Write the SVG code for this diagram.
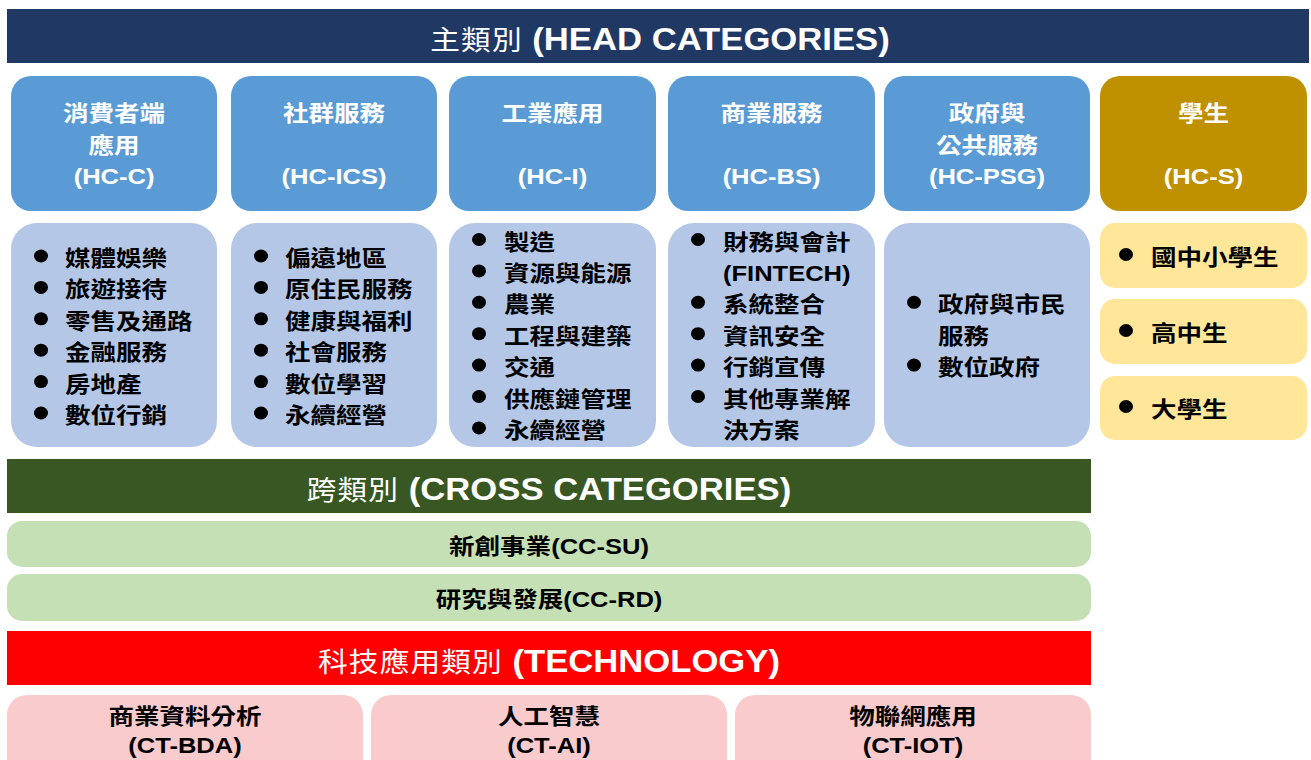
<svg xmlns="http://www.w3.org/2000/svg" width="1311" height="760" viewBox="0 0 1311 760">
<style>
  text { font-family: "Liberation Sans", "Noto Sans CJK TC", sans-serif; font-weight: 700; }
  .zh { font-family: "Noto Sans CJK TC", sans-serif; }
  .bar { fill: #ffffff; font-size: 31.5px; text-anchor: middle; }
  .bar .zh { font-size: 27px; font-weight: 400; letter-spacing: 1px; }
  .ttl { fill: #ffffff; font-size: 22px; text-anchor: middle; }
  .li { fill: #000000; font-size: 22px; }
  .mid { fill: #000000; font-size: 22px; text-anchor: middle; }
  .dot { fill: #000000; }
  .head { fill: #5B9BD5; }
  .list { fill: #B4C7E7; }
  .gold { fill: #BF9000; }
  .yel { fill: #FFE699; }
  .lg { fill: #C5E0B4; }
  .pink { fill: #F9CBCC; }
</style>
<rect width="1311" height="760" fill="#ffffff"/>

<g id="head-bar">
  <rect x="7" y="9" width="1302" height="54" fill="#203864"/>
  <text class="bar" transform="translate(660,50) scale(1.1,1)"><tspan class="zh">主類別</tspan> (HEAD CATEGORIES)</text>
</g>

<g id="hc-c">
  <rect class="head" x="11" y="76" width="206" height="135" rx="20"/>
  <text class="ttl zh" transform="translate(114,121) scale(1.16,1)">消費者端</text>
  <text class="ttl zh" transform="translate(114,153) scale(1.16,1)">應用</text>
  <text class="ttl" transform="translate(114,184) scale(1.16,1)">(HC-C)</text>
</g>
<g id="hc-ics">
  <rect class="head" x="231" y="76" width="206" height="135" rx="20"/>
  <text class="ttl zh" transform="translate(334,121) scale(1.16,1)">社群服務</text>
  <text class="ttl" transform="translate(334,184) scale(1.16,1)">(HC-ICS)</text>
</g>
<g id="hc-i">
  <rect class="head" x="449" y="76" width="207" height="135" rx="20"/>
  <text class="ttl zh" transform="translate(552.5,121) scale(1.16,1)">工業應用</text>
  <text class="ttl" transform="translate(552.5,184) scale(1.16,1)">(HC-I)</text>
</g>
<g id="hc-bs">
  <rect class="head" x="668" y="76" width="207" height="135" rx="20"/>
  <text class="ttl zh" transform="translate(771.5,121) scale(1.16,1)">商業服務</text>
  <text class="ttl" transform="translate(771.5,184) scale(1.16,1)">(HC-BS)</text>
</g>
<g id="hc-psg">
  <rect class="head" x="884" y="76" width="206" height="135" rx="20"/>
  <text class="ttl zh" transform="translate(987,121) scale(1.16,1)">政府與</text>
  <text class="ttl zh" transform="translate(987,153) scale(1.16,1)">公共服務</text>
  <text class="ttl" transform="translate(987,184) scale(1.16,1)">(HC-PSG)</text>
</g>
<g id="hc-s">
  <rect class="gold" x="1100" y="76" width="207" height="135" rx="20"/>
  <text class="ttl zh" transform="translate(1203.5,121) scale(1.16,1)">學生</text>
  <text class="ttl" transform="translate(1203.5,184) scale(1.16,1)">(HC-S)</text>
</g>

<g id="list-hc-c">
  <rect class="list" x="11" y="223" width="206" height="224" rx="26"/>
  <ellipse class="dot" cx="41" cy="256" rx="7" ry="6.5"/>
  <ellipse class="dot" cx="41" cy="287.4" rx="7" ry="6.5"/>
  <ellipse class="dot" cx="41" cy="318.8" rx="7" ry="6.5"/>
  <ellipse class="dot" cx="41" cy="350.2" rx="7" ry="6.5"/>
  <ellipse class="dot" cx="41" cy="381.6" rx="7" ry="6.5"/>
  <ellipse class="dot" cx="41" cy="413" rx="7" ry="6.5"/>
  <text class="li zh" transform="translate(65,266) scale(1.16,1)">媒體娛樂</text>
  <text class="li zh" transform="translate(65,297.4) scale(1.16,1)">旅遊接待</text>
  <text class="li zh" transform="translate(65,328.8) scale(1.16,1)">零售及通路</text>
  <text class="li zh" transform="translate(65,360.2) scale(1.16,1)">金融服務</text>
  <text class="li zh" transform="translate(65,391.6) scale(1.16,1)">房地產</text>
  <text class="li zh" transform="translate(65,423) scale(1.16,1)">數位行銷</text>
</g>
<g id="list-hc-ics">
  <rect class="list" x="231" y="223" width="206" height="224" rx="26"/>
  <ellipse class="dot" cx="261" cy="256" rx="7" ry="6.5"/>
  <ellipse class="dot" cx="261" cy="287.4" rx="7" ry="6.5"/>
  <ellipse class="dot" cx="261" cy="318.8" rx="7" ry="6.5"/>
  <ellipse class="dot" cx="261" cy="350.2" rx="7" ry="6.5"/>
  <ellipse class="dot" cx="261" cy="381.6" rx="7" ry="6.5"/>
  <ellipse class="dot" cx="261" cy="413" rx="7" ry="6.5"/>
  <text class="li zh" transform="translate(285,266) scale(1.16,1)">偏遠地區</text>
  <text class="li zh" transform="translate(285,297.4) scale(1.16,1)">原住民服務</text>
  <text class="li zh" transform="translate(285,328.8) scale(1.16,1)">健康與福利</text>
  <text class="li zh" transform="translate(285,360.2) scale(1.16,1)">社會服務</text>
  <text class="li zh" transform="translate(285,391.6) scale(1.16,1)">數位學習</text>
  <text class="li zh" transform="translate(285,423) scale(1.16,1)">永續經營</text>
</g>
<g id="list-hc-i">
  <rect class="list" x="449" y="223" width="207" height="224" rx="26"/>
  <ellipse class="dot" cx="479" cy="239.5" rx="7" ry="6.5"/>
  <ellipse class="dot" cx="479" cy="270.9" rx="7" ry="6.5"/>
  <ellipse class="dot" cx="479" cy="302.3" rx="7" ry="6.5"/>
  <ellipse class="dot" cx="479" cy="333.7" rx="7" ry="6.5"/>
  <ellipse class="dot" cx="479" cy="365.1" rx="7" ry="6.5"/>
  <ellipse class="dot" cx="479" cy="396.5" rx="7" ry="6.5"/>
  <ellipse class="dot" cx="479" cy="427.9" rx="7" ry="6.5"/>
  <text class="li zh" transform="translate(504,249.5) scale(1.16,1)">製造</text>
  <text class="li zh" transform="translate(504,280.9) scale(1.16,1)">資源與能源</text>
  <text class="li zh" transform="translate(504,312.3) scale(1.16,1)">農業</text>
  <text class="li zh" transform="translate(504,343.7) scale(1.16,1)">工程與建築</text>
  <text class="li zh" transform="translate(504,375.1) scale(1.16,1)">交通</text>
  <text class="li zh" transform="translate(504,406.5) scale(1.16,1)">供應鏈管理</text>
  <text class="li zh" transform="translate(504,437.9) scale(1.16,1)">永續經營</text>
</g>
<g id="list-hc-bs">
  <rect class="list" x="668" y="223" width="207" height="224" rx="26"/>
  <ellipse class="dot" cx="698" cy="239.5" rx="7" ry="6.5"/>
  <ellipse class="dot" cx="698" cy="302.3" rx="7" ry="6.5"/>
  <ellipse class="dot" cx="698" cy="333.7" rx="7" ry="6.5"/>
  <ellipse class="dot" cx="698" cy="365.1" rx="7" ry="6.5"/>
  <ellipse class="dot" cx="698" cy="396.5" rx="7" ry="6.5"/>
  <text class="li zh" transform="translate(723,249.5) scale(1.16,1)">財務與會計</text>
  <text class="li" transform="translate(723,280.9) scale(1.16,1)">(FINTECH)</text>
  <text class="li zh" transform="translate(723,312.3) scale(1.16,1)">系統整合</text>
  <text class="li zh" transform="translate(723,343.7) scale(1.16,1)">資訊安全</text>
  <text class="li zh" transform="translate(723,375.1) scale(1.16,1)">行銷宣傳</text>
  <text class="li zh" transform="translate(723,406.5) scale(1.16,1)">其他專業解</text>
  <text class="li zh" transform="translate(723,437.9) scale(1.16,1)">決方案</text>
</g>
<g id="list-hc-psg">
  <rect class="list" x="884" y="223" width="206" height="224" rx="26"/>
  <ellipse class="dot" cx="914" cy="302.3" rx="7" ry="6.5"/>
  <ellipse class="dot" cx="914" cy="365.1" rx="7" ry="6.5"/>
  <text class="li zh" transform="translate(938,312.3) scale(1.16,1)">政府與市民</text>
  <text class="li zh" transform="translate(938,343.7) scale(1.16,1)">服務</text>
  <text class="li zh" transform="translate(938,375.1) scale(1.16,1)">數位政府</text>
</g>
<g id="hc-s-junior">
  <rect class="yel" x="1100" y="223" width="207" height="65" rx="15"/>
  <ellipse class="dot" cx="1126" cy="254.5" rx="7" ry="6.5"/>
  <text class="li zh" transform="translate(1151,264.5) scale(1.16,1)">國中小學生</text>
</g>
<g id="hc-s-senior">
  <rect class="yel" x="1100" y="299" width="207" height="65" rx="15"/>
  <ellipse class="dot" cx="1126" cy="330.5" rx="7" ry="6.5"/>
  <text class="li zh" transform="translate(1151,340.5) scale(1.16,1)">高中生</text>
</g>
<g id="hc-s-college">
  <rect class="yel" x="1100" y="376" width="207" height="64" rx="15"/>
  <ellipse class="dot" cx="1126" cy="406.5" rx="7" ry="6.5"/>
  <text class="li zh" transform="translate(1151,416.5) scale(1.16,1)">大學生</text>
</g>

<g id="cross-bar">
  <rect x="7" y="459" width="1084" height="54" fill="#385723"/>
  <text class="bar" transform="translate(549,500) scale(1.1,1)"><tspan class="zh">跨類別</tspan> (CROSS CATEGORIES)</text>
</g>
<g id="cc-su">
  <rect class="lg" x="7" y="521" width="1084" height="46" rx="15"/>
  <text class="mid" transform="translate(549,554) scale(1.16,1)"><tspan class="zh">新創事業</tspan>(CC-SU)</text>
</g>
<g id="cc-rd">
  <rect class="lg" x="7" y="574" width="1084" height="47" rx="15"/>
  <text class="mid" transform="translate(549,607) scale(1.16,1)"><tspan class="zh">研究與發展</tspan>(CC-RD)</text>
</g>

<g id="tech-bar">
  <rect x="7" y="631" width="1084" height="54" fill="#FF0000"/>
  <text class="bar" transform="translate(549,672) scale(1.1,1)"><tspan class="zh">科技應用類別</tspan> (TECHNOLOGY)</text>
</g>
<g id="ct-bda">
  <rect class="pink" x="7" y="695" width="356" height="95" rx="20"/>
  <text class="mid zh" transform="translate(185,724) scale(1.16,1)">商業資料分析</text>
  <text class="mid" transform="translate(185,753) scale(1.16,1)">(CT-BDA)</text>
</g>
<g id="ct-ai">
  <rect class="pink" x="371" y="695" width="356" height="95" rx="20"/>
  <text class="mid zh" transform="translate(549,724) scale(1.16,1)">人工智慧</text>
  <text class="mid" transform="translate(549,753) scale(1.16,1)">(CT-AI)</text>
</g>
<g id="ct-iot">
  <rect class="pink" x="735" y="695" width="356" height="95" rx="20"/>
  <text class="mid zh" transform="translate(913,724) scale(1.16,1)">物聯網應用</text>
  <text class="mid" transform="translate(913,753) scale(1.16,1)">(CT-IOT)</text>
</g>

<g id="connectors"></g>
</svg>
